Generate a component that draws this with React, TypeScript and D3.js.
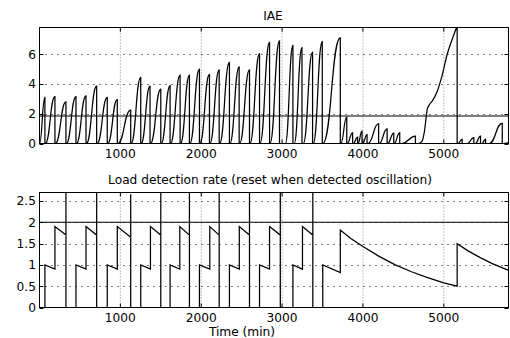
import React from 'react';
import * as d3 from 'd3';

const W = 510;
const H = 338;
const FONT = '"DejaVu Sans", sans-serif';
const FS = 12.2;

const xTicks = [1000, 2000, 3000, 4000, 5000];
const iaeTicks = [0, 2, 4, 6];
const rateTicks = [0, 0.5, 1, 1.5, 2, 2.5];

// IAE: each cycle rises from 0 (start) to a peak and is reset at the peak time
const iaeStart = [0, 72, 196, 332, 456, 580, 712, 843, 967, 1133, 1257, 1372, 1505, 1620, 1744, 1859, 1983, 2107, 2227, 2354, 2474, 2602, 2726, 2850, 3040, 3150, 3262, 3385, 3503, 3725, 3805, 3880, 3938, 3995, 4060, 4200, 4305, 4385, 4480];
const iaeReset = [67, 191, 327, 451, 575, 707, 838, 962, 1128, 1252, 1367, 1500, 1615, 1739, 1854, 1978, 2102, 2222, 2349, 2469, 2597, 2721, 2845, 2968, 3134, 3246, 3377, 3497, 3720, 3800, 3872, 3934, 3989, 4051, 4194, 4299, 4381, 4455, 4649];
const iaePeak = [3.1, 3.15, 2.8, 3.15, 3.2, 3.85, 3.1, 2.95, 2.25, 4.45, 3.85, 3.65, 3.9, 4.6, 4.6, 5.0, 4.65, 4.95, 5.45, 5.15, 4.95, 6.05, 6.8, 6.9, 6.6, 6.45, 6.15, 6.85, 7.1, 1.78, 0.72, 0.43, 0.83, 0.59, 1.33, 0.99, 0.7, 0.72, 0.5];
// the long ramp before the reset near 5165
const rampT = [4690, 4730, 4760, 4795, 4820, 4856, 4918, 4980, 5042, 5103, 5165];
const rampV = [0, 0.15, 0.8, 2.3, 2.6, 2.85, 3.5, 4.6, 6.0, 7.0, 7.9];
// small cycles after that reset
const tailStart = [5172, 5290, 5390, 5470, 5560];
const tailReset = [5227, 5371, 5454, 5516, 5723];
const tailPeak = [0.27, 0.4, 0.5, 0.3, 1.35];
const iaeThreshold = 1.85;

// Load detection rate
const rateT = [0, 67, 67, 191, 191, 327, 327, 327,
  451, 451, 575, 575, 707, 707, 707,
  838, 838, 962, 962, 1128, 1128, 1128,
  1252, 1252, 1372, 1372, 1500, 1500, 1500,
  1615, 1615, 1735, 1735, 1854, 1854, 1854,
  1978, 1978, 2106, 2106, 2222, 2222, 2222,
  2349, 2349, 2471, 2471, 2597, 2597, 2597,
  2721, 2721, 2845, 2845, 2978, 2978, 2978,
  3134, 3134, 3252, 3252, 3380, 3380, 3380,
  3503, 3503, 3720, 3720, 3850, 4000, 4200, 4400, 4600, 4800, 5000, 5165,
  5165, 5300, 5450, 5600, 5800];
const rateV = [0, 0, 1, 0.9, 1.9, 1.7, 2.8, 0,
  0, 1, 0.9, 1.9, 1.7, 2.8, 0,
  0, 1, 0.9, 1.9, 1.65, 2.66, 0,
  0, 1, 0.9, 1.9, 1.7, 2.8, 0,
  0, 1, 0.9, 1.9, 1.7, 2.8, 0,
  0, 1, 0.9, 1.9, 1.7, 2.8, 0,
  0, 1, 0.9, 1.9, 1.7, 2.8, 0,
  0, 1, 0.9, 1.9, 1.7, 2.8, 0,
  0, 1, 0.9, 1.9, 1.7, 2.8, 0,
  0, 1, 0.82, 1.82, 1.62, 1.43, 1.2, 1.0, 0.84, 0.7, 0.58, 0.5,
  1.5, 1.33, 1.17, 1.03, 0.87];
const rateThreshold = 2;

const L = 39.5, R = 508.5;
const top1 = 27.5, bot1 = 143.5;
const top2 = 192.5, bot2 = 307.5;

type P = [number, number];

function Axes({ y, ticks, top, bot, fmt, clipId, children }: any) {
  const x = d3.scaleLinear().domain([0, 5800]).range([L, R]);
  return (
    <g>
      <defs>
        <clipPath id={clipId}><rect x={L} y={top} width={R - L} height={bot - top} /></clipPath>
      </defs>
      {xTicks.map(t => (
        <line key={'vx' + t} x1={x(t)} x2={x(t)} y1={top} y2={bot} stroke="#888" strokeWidth={1} strokeDasharray="1,2" />
      ))}
      {ticks.filter((t: number) => y(t) > top + 1 && y(t) < bot - 1).map((t: number) => (
        <line key={'hy' + t} x1={L} x2={R} y1={Math.round(y(t)) + 0.5} y2={Math.round(y(t)) + 0.5} stroke="#000" strokeWidth={1} strokeDasharray="1,5" />
      ))}
      {xTicks.map(t => (
        <g key={'tx' + t}>
          <line x1={x(t)} x2={x(t)} y1={bot} y2={bot - 4} stroke="#000" />
          <line x1={x(t)} x2={x(t)} y1={top} y2={top + 4} stroke="#000" />
        </g>
      ))}
      {ticks.map((t: number) => (
        <g key={'ty' + t}>
          <line x1={L} x2={L + 4} y1={Math.round(y(t)) + 0.5} y2={Math.round(y(t)) + 0.5} stroke="#000" />
          <line x1={R} x2={R - 4} y1={Math.round(y(t)) + 0.5} y2={Math.round(y(t)) + 0.5} stroke="#000" />
        </g>
      ))}
      <g clipPath={`url(#${clipId})`}>{children}</g>
      <rect x={L} y={top} width={R - L} height={bot - top} fill="none" stroke="#000" strokeWidth={1} />
      {xTicks.map(t => (
        <text key={'lx' + t} x={x(t)} y={bot + 14.5} textAnchor="middle" fontFamily={FONT} fontSize={FS}>{t}</text>
      ))}
      {ticks.map((t: number) => (
        <text key={'ly' + t} x={L - 3.5} y={y(t) + 4.3} textAnchor="end" fontFamily={FONT} fontSize={FS}>{fmt(t)}</text>
      ))}
    </g>
  );
}

export default function App() {
  const x = d3.scaleLinear().domain([0, 5800]).range([L, R]);
  const yT = d3.scaleLinear().domain([0, 7.8]).range([bot1, top1]);
  const yB = d3.scaleLinear().domain([0, 2.7]).range([bot2, top2]);

  const lin = d3.line<P>().x(d => x(d[0])).y(d => yT(d[1]));
  const bump = d3.line<P>().x(d => x(d[0])).y(d => yT(d[1])).curve(d3.curveBumpX);
  const mono = d3.line<P>().x(d => x(d[0])).y(d => yT(d[1])).curve(d3.curveMonotoneX);

  const parts: string[] = [];
  iaeStart.forEach((s, i) => {
    parts.push(bump([[s, 0], [iaeReset[i], iaePeak[i]]]) as string);
    parts.push(lin([[iaeReset[i], iaePeak[i]], [iaeReset[i], 0]]) as string);
  });
  parts.push(mono(rampT.map((t, i) => [t, rampV[i]] as P)) as string);
  parts.push(lin([[rampT[rampT.length - 1], rampV[rampV.length - 1]], [rampT[rampT.length - 1], 0]]) as string);
  tailStart.forEach((s, i) => {
    parts.push(bump([[s, 0], [tailReset[i], tailPeak[i]]]) as string);
    parts.push(lin([[tailReset[i], tailPeak[i]], [tailReset[i], 0]]) as string);
  });
  parts.push(lin([[5740, 0], [5800, 0.05]]) as string);
  const iaePath = parts.map((p, i) => (i === 0 ? p : 'L' + p.slice(1))).join('');

  const rateLine = d3.line<number>().x(i => x(rateT[i])).y(i => yB(rateV[i]));
  const ratePath = rateLine(rateT.map((_, i) => i)) as string;

  const cx = (L + R) / 2;
  return (
    <svg width={W} height={H} style={{ position: 'absolute', left: 0, top: 0, background: '#fff' }}>
      <rect width={W} height={H} fill="#fff" />
      <text x={cx - 1} y={20} textAnchor="middle" fontFamily={FONT} fontSize={FS}>IAE</text>
      <Axes y={yT} ticks={iaeTicks} top={top1} bot={bot1} fmt={(t: number) => String(t)} clipId="c1">
        <line x1={L} x2={R} y1={yT(iaeThreshold)} y2={yT(iaeThreshold)} stroke="#000" strokeWidth={1.1} />
        <path d={iaePath} fill="none" stroke="#000" strokeWidth={1.25} />
      </Axes>
      <text x={cx - 4} y={184} textAnchor="middle" fontFamily={FONT} fontSize={FS}>Load detection rate (reset when detected oscillation)</text>
      <Axes y={yB} ticks={rateTicks} top={top2} bot={bot2} fmt={(t: number) => String(t)} clipId="c2">
        <line x1={L} x2={R} y1={yB(rateThreshold)} y2={yB(rateThreshold)} stroke="#000" strokeWidth={1.1} />
        <path d={ratePath} fill="none" stroke="#000" strokeWidth={1.25} />
      </Axes>
      <text x={242} y={335.5} textAnchor="middle" fontFamily={FONT} fontSize={FS}>Time (min)</text>
    </svg>
  );
}
